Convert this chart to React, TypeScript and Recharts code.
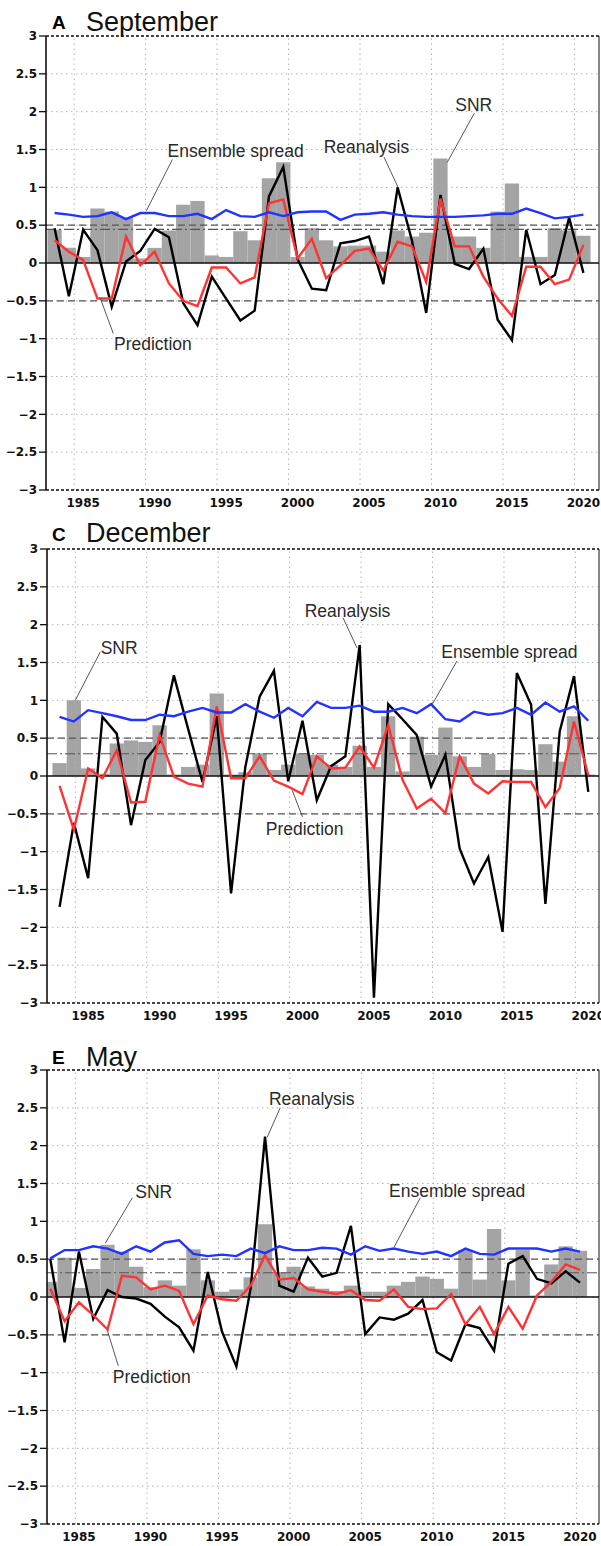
import React from "react";
import {
  Bar,
  CartesianGrid,
  ComposedChart,
  Line,
  ReferenceDot,
  ReferenceLine,
  XAxis,
  YAxis,
} from "recharts";

const YEARS = [
  1983, 1984, 1985, 1986, 1987, 1988, 1989, 1990, 1991, 1992, 1993, 1994, 1995,
  1996, 1997, 1998, 1999, 2000, 2001, 2002, 2003, 2004, 2005, 2006, 2007, 2008,
  2009, 2010, 2011, 2012, 2013, 2014, 2015, 2016, 2017, 2018, 2019, 2020,
];

const X_TICKS = [1985, 1990, 1995, 2000, 2005, 2010, 2015, 2020];
const Y_TICKS = [-3, -2.5, -2, -1.5, -1, -0.5, 0, 0.5, 1, 1.5, 2, 2.5, 3];

// September
const SEP_SNR = [
  0.44, 0.2, 0.08, 0.72, 0.68, 0.6, 0.06, 0.2, 0.43, 0.77,
  0.82, 0.1, 0.08, 0.42, 0.3, 1.12, 1.33, 0.08, 0.46, 0.3,
  0.22, 0.23, 0.23, 0.15, 0.43, 0.35, 0.4, 1.38, 0.35, 0.35,
  0.2, 0.68, 1.05, 0.08, 0.08, 0.46, 0.43, 0.36,
];
const SEP_REAN = [
  0.46, -0.44, 0.44, 0.17, -0.58, 0.02, 0.16, 0.45, 0.34, -0.53,
  -0.82, -0.18, -0.47, -0.76, -0.63, 0.88, 1.27, 0.05, -0.34, -0.36,
  0.26, 0.29, 0.35, -0.28, 1.0, 0.3, -0.66, 0.9, -0.01, -0.08,
  0.19, -0.75, -1.02, 0.44, -0.28, -0.16, 0.6, -0.13,
];
const SEP_PRED = [
  0.3, 0.15, 0.04, -0.47, -0.47, 0.35, -0.03, 0.15, -0.27, -0.5,
  -0.57, -0.06, -0.06, -0.27, -0.19, 0.79, 0.84, 0.06, 0.32, -0.2,
  -0.03, 0.16, 0.19, -0.1, 0.28, 0.22, -0.25, 0.85, 0.22, 0.22,
  -0.18, -0.47, -0.7, -0.05, -0.05, -0.28, -0.22, 0.24,
];
const SEP_SPREAD = [
  0.66, 0.64, 0.61, 0.62, 0.67, 0.58, 0.66, 0.66, 0.62, 0.62,
  0.65, 0.58, 0.7, 0.62, 0.61, 0.67, 0.62, 0.67, 0.68, 0.68,
  0.57, 0.64, 0.65, 0.67, 0.64, 0.62, 0.61, 0.61, 0.61, 0.62,
  0.63, 0.65, 0.65, 0.72, 0.66, 0.59, 0.61, 0.64,
];

// December
const DEC_SNR = [
  0.17, 1.0, 0.1, 0.03, 0.43, 0.47, 0.45, 0.67, 0.02, 0.12,
  0.15, 1.09, 0.02, 0.05, 0.3, 0.08, 0.15, 0.3, 0.28, 0.15,
  0.12, 0.4, 0.12, 0.79, 0.06, 0.52, 0.28, 0.64, 0.26, 0.12,
  0.29, 0.08, 0.09, 0.08, 0.42, 0.19, 0.79, 0.02,
];
const DEC_REAN = [
  -1.73, -0.62, -1.35, 0.78, 0.56, -0.65, 0.21, 0.45, 1.33, 0.62,
  -0.08, 0.79, -1.55, 0.12, 1.05, 1.39, -0.07, 0.73, -0.32, 0.13,
  0.26, 1.73, -2.93, 0.95, 0.75, 0.54, -0.14, 0.28, -0.96, -1.42,
  -1.07, -2.06, 1.36, 0.94, -1.69, 0.59, 1.32, -0.21,
];
const DEC_PRED = [
  -0.13, -0.71, 0.1, -0.03, 0.34, -0.35, -0.34, 0.54, -0.01, -0.1,
  -0.14, 0.92, -0.03, -0.03, 0.26, -0.06, -0.14, -0.24, 0.26, 0.1,
  0.11, 0.39, 0.11, 0.67, -0.05, -0.43, -0.3, -0.49, 0.26, -0.1,
  -0.23, -0.07, -0.08, -0.08, -0.41, -0.16, 0.72, 0.01,
];
const DEC_SPREAD = [
  0.78, 0.72, 0.87, 0.83, 0.79, 0.74, 0.74, 0.81, 0.79, 0.85,
  0.9, 0.84, 0.84, 0.95, 0.85, 0.77, 0.9, 0.79, 0.98, 0.9,
  0.9, 0.93, 0.85, 0.85, 0.9, 0.83, 0.95, 0.75, 0.72, 0.85,
  0.81, 0.83, 0.9, 0.81, 0.97, 0.85, 0.92, 0.73,
];

// May
const MAY_SNR = [
  0.2, 0.52, 0.12, 0.37, 0.69, 0.6, 0.4, 0.13, 0.22, 0.15,
  0.63, 0.22, 0.07, 0.1, 0.26, 0.96, 0.33, 0.4, 0.14, 0.11,
  0.08, 0.15, 0.07, 0.07, 0.15, 0.2, 0.27, 0.24, 0.11, 0.62,
  0.23, 0.9, 0.22, 0.62, 0.02, 0.43, 0.67, 0.61,
];
const MAY_REAN = [
  0.5, -0.6, 0.6, -0.29, 0.09, 0.0, -0.02, -0.09, -0.26, -0.4,
  -0.71, 0.33, -0.46, -0.92, 0.12, 2.12, 0.15, 0.07, 0.52, 0.27,
  0.32, 0.94, -0.49, -0.27, -0.3, -0.22, -0.04, -0.73, -0.84, -0.36,
  -0.41, -0.71, 0.44, 0.54, 0.24, 0.18, 0.34, 0.19,
];
const MAY_PRED = [
  0.11, -0.32, -0.07, -0.24, -0.43, 0.28, 0.26, 0.1, 0.15, 0.08,
  -0.36, 0.02, -0.03, -0.05, 0.15, 0.55, 0.23, 0.25, 0.1, 0.07,
  0.04, 0.09, -0.04, -0.05, 0.1, -0.13, -0.16, -0.15, 0.04, -0.36,
  -0.13, -0.49, -0.13, -0.42, 0.02, 0.2, 0.43, 0.36,
];
const MAY_SPREAD = [
  0.51, 0.62, 0.62, 0.67, 0.64, 0.57, 0.67, 0.6, 0.72, 0.75,
  0.57, 0.54, 0.56, 0.54, 0.64, 0.58, 0.67, 0.62, 0.62, 0.65,
  0.64, 0.56, 0.67, 0.61, 0.64, 0.6, 0.57, 0.6, 0.54, 0.64,
  0.57, 0.56, 0.64, 0.64, 0.64, 0.6, 0.64, 0.6,
];

// vertical dotted grid (offset from the year ticks as in the original figure)
const SEP_GRID_X = [1984.37, 1989.37, 1994.37, 1999.37, 2004.37, 2009.37, 2014.37, 2019.37];
const DEC_GRID_X = [1984.1, 1989.1, 1994.1, 1999.1, 2004.1, 2009.1, 2014.1, 2019.1];
const MAY_GRID_X = [1984.75, 1989.75, 1994.75, 1999.75, 2004.75, 2009.75, 2014.75, 2019.75];

type Note = { text: string; x: number; y: number; from: [number, number]; to: [number, number] };

const SEP_NOTES: Note[] = [
  { text: "Ensemble spread", x: 1995.67, y: 1.48, from: [1991.25, 1.37], to: [1989.42, 0.69] },
  { text: "Reanalysis", x: 2004.82, y: 1.53, from: [2006.05, 1.4], to: [2007.03, 1.0] },
  { text: "SNR", x: 2012.33, y: 2.09, from: [2012.37, 1.98], to: [2010.47, 1.33] },
  { text: "Prediction", x: 1989.88, y: -1.07, from: [1987.1, -0.93], to: [1986.19, -0.46] },
];
const DEC_NOTES: Note[] = [
  { text: "SNR", x: 1987.17, y: 1.69, from: [1985.85, 1.64], to: [1984.1, 1.0] },
  { text: "Reanalysis", x: 2003.15, y: 2.18, from: [2002.84, 2.09], to: [2003.82, 1.69] },
  { text: "Ensemble spread", x: 2014.48, y: 1.64, from: [2010.81, 1.52], to: [2009.06, 0.94] },
  { text: "Prediction", x: 2000.15, y: -0.7, from: [2000.0, -0.54], to: [1999.28, -0.19] },
];
const MAY_NOTES: Note[] = [
  { text: "SNR", x: 1990.23, y: 1.39, from: [1988.73, 1.31], to: [1986.84, 0.71] },
  { text: "Reanalysis", x: 2001.26, y: 2.62, from: [1999.06, 2.5], to: [1998.15, 2.11] },
  { text: "Ensemble spread", x: 2011.42, y: 1.41, from: [2008.84, 1.31], to: [2007.02, 0.66] },
  { text: "Prediction", x: 1990.09, y: -1.06, from: [1987.75, -0.91], to: [1986.98, -0.44] },
];

const PANELS = [
  {
    letter: "A", title: "September", top: 0, titleBase: 31.5, marginLeft: 0,
    domain: [1982.4, 2021.09], gridX: SEP_GRID_X, snrLine: 0.445,
    snr: SEP_SNR, rean: SEP_REAN, pred: SEP_PRED, spread: SEP_SPREAD, notes: SEP_NOTES,
  },
  {
    letter: "C", title: "December", top: 513.3, titleBase: 543.3, marginLeft: 1,
    domain: [1982.12, 2020.75], gridX: DEC_GRID_X, snrLine: 0.295,
    snr: DEC_SNR, rean: DEC_REAN, pred: DEC_PRED, spread: DEC_SPREAD, notes: DEC_NOTES,
  },
  {
    letter: "E", title: "May", top: 1034, titleBase: 1066.5, marginLeft: 1,
    domain: [1982.77, 2021.33], gridX: MAY_GRID_X, snrLine: 0.32,
    snr: MAY_SNR, rean: MAY_REAN, pred: MAY_PRED, spread: MAY_SPREAD, notes: MAY_NOTES,
  },
];

const W = 601;
const H = 520;
const Y_AXIS_W = 46;
const M_RIGHT = 2;
const TICK_FONT = { fill: "#111", fontSize: 12, fontWeight: 700, fontFamily: "DejaVu Sans" };
const fmtY = (v: number) => (v < 0 ? "\u2212" + Math.abs(v) : String(v));

function Panel({ p }: { p: (typeof PANELS)[number] }) {
  const data = YEARS.map((year, i) => ({
    year,
    snr: p.snr[i],
    rean: p.rean[i],
    pred: p.pred[i],
    spread: p.spread[i],
  }));
  const plotW = W - p.marginLeft - Y_AXIS_W - M_RIGHT;
  const barSize = (plotW / (p.domain[1] - p.domain[0])) * 0.999;

  return (
    <div style={{ position: "absolute", left: 0, top: p.top, width: W, height: H }}>
      <ComposedChart
        width={W}
        height={H}
        data={data}
        margin={{ top: 36, right: M_RIGHT, bottom: 8, left: p.marginLeft }}
        barGap={0}
        barCategoryGap={0}
      >
        <CartesianGrid vertical={false} stroke="#b3b3b3" strokeDasharray="1.5 3.5" />
        {p.gridX.map((gx) => (
          <ReferenceLine key={gx} x={gx} stroke="#b3b3b3" strokeDasharray="1.5 3.5" />
        ))}
        <XAxis
          type="number"
          dataKey="year"
          domain={p.domain}
          ticks={X_TICKS}
          allowDataOverflow
          tick={TICK_FONT}
          tickLine={false}
          height={22}
          axisLine={{ stroke: "#111", strokeWidth: 1.3, strokeDasharray: "3 2" }}
        />
        <YAxis
          type="number"
          domain={[-3, 3]}
          ticks={Y_TICKS}
          allowDataOverflow
          width={Y_AXIS_W}
          tick={TICK_FONT}
          tickFormatter={fmtY}
          tickSize={7}
          tickMargin={2}
          tickLine={{ stroke: "#111", strokeWidth: 1.3 }}
          axisLine={{ stroke: "#111", strokeWidth: 1.6 }}
        />
        <Bar dataKey="snr" fill="#a4a4a4" barSize={barSize} isAnimationActive={false} />
        <ReferenceLine y={3} stroke="#111" strokeWidth={1.3} strokeDasharray="3 2" />
        <ReferenceLine x={p.domain[1]} stroke="#111" strokeWidth={1} />
        <ReferenceLine y={0.5} stroke="#555" strokeWidth={1.1} strokeDasharray="7 4" />
        <ReferenceLine y={-0.5} stroke="#555" strokeWidth={1.1} strokeDasharray="7 4" />
        <ReferenceLine y={p.snrLine} stroke="#555" strokeWidth={1.1} strokeDasharray="10 3 2 3" />
        <ReferenceLine y={0} stroke="#111" strokeWidth={1.5} />
        <Line
          type="linear"
          dataKey="rean"
          stroke="#000"
          strokeWidth={2.4}
          dot={false}
          isAnimationActive={false}
        />
        <Line
          type="linear"
          dataKey="pred"
          stroke="#ff3333"
          strokeWidth={2.4}
          dot={false}
          isAnimationActive={false}
        />
        <Line
          type="linear"
          dataKey="spread"
          stroke="#2233ff"
          strokeWidth={2.4}
          dot={false}
          isAnimationActive={false}
        />
        {p.notes.map((n) => (
          <ReferenceLine
            key={"l" + n.text}
            segment={[
              { x: n.from[0], y: n.from[1] },
              { x: n.to[0], y: n.to[1] },
            ]}
            stroke="#444"
            strokeWidth={0.9}
          />
        ))}
        {p.notes.map((n) => (
          <ReferenceDot
            key={"t" + n.text}
            x={n.x}
            y={n.y}
            r={0}
            stroke="none"
            fill="none"
            label={{
              value: n.text,
              position: "center",
              fontSize: 17.5,
              fill: "#2a2a2a",
              fontFamily: "Liberation Sans",
            }}
          />
        ))}
      </ComposedChart>
    </div>
  );
}

export default function App() {
  return (
    <div
      style={{
        position: "absolute",
        left: 0,
        top: 0,
        width: W,
        height: 1546,
        background: "#fff",
        overflow: "hidden",
      }}
    >
      {PANELS.map((p) => (
        <Panel key={p.letter} p={p} />
      ))}
      {PANELS.map((p) => (
        <React.Fragment key={"title" + p.letter}>
          <div
            style={{
              position: "absolute",
              left: 52,
              top: p.titleBase - 2.5 - 0.846 * 19,
              fontFamily: "Liberation Sans",
              fontWeight: 700,
              fontSize: 19,
              lineHeight: "19px",
              color: "#000",
            }}
          >
            {p.letter}
          </div>
          <div
            style={{
              position: "absolute",
              left: 86,
              top: p.titleBase - 0.846 * 27,
              fontFamily: "Liberation Sans",
              fontSize: 27,
              lineHeight: "27px",
              color: "#111",
              whiteSpace: "nowrap",
            }}
          >
            {p.title}
          </div>
        </React.Fragment>
      ))}
    </div>
  );
}
